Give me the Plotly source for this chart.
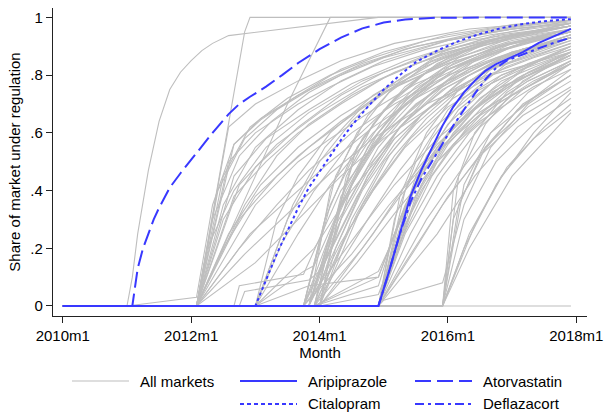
import plotly.graph_objects as go

# ---------------- data (months since 2010m1, share of market) ----------------
TICK_MONTHS = [0, 24, 48, 72, 96]
TICK_LABELS = ["2010m1", "2012m1", "2014m1", "2016m1", "2018m1"]
Y_TICKS = [0, 0.2, 0.4, 0.6, 0.8, 1.0]
Y_LABELS = ["0", ".2", ".4", ".6", ".8", "1"]

ATORVASTATIN_M = [0, 13, 14, 15, 16, 17, 18, 20, 22, 25, 28, 31, 33, 35, 38, 41, 44, 48, 52, 56, 60, 64, 70, 95]
ATORVASTATIN_V = [0, 0, 0.13, 0.20, 0.25, 0.30, 0.34, 0.41, 0.46, 0.53, 0.60, 0.665, 0.70, 0.725, 0.76, 0.80,
                  0.842, 0.89, 0.93, 0.962, 0.982, 0.993, 0.999, 1.0]

CITALOPRAM_M = [0, 36, 38, 40, 42, 44, 46, 48, 50, 52, 54, 57, 60, 63, 66, 70, 74, 78, 82, 86, 90, 95]
CITALOPRAM_V = [0, 0, 0.09, 0.18, 0.26, 0.34, 0.41, 0.465, 0.52, 0.575, 0.625, 0.69, 0.75, 0.80, 0.845,
                0.885, 0.918, 0.943, 0.963, 0.977, 0.987, 0.994]

ARIPIPRAZOLE_M = [0, 59, 61, 63, 65, 67, 69, 71, 73, 75, 77, 79, 81, 83, 86, 89, 92, 95]
ARIPIPRAZOLE_V = [0, 0, 0.12, 0.25, 0.38, 0.47, 0.55, 0.625, 0.69, 0.74, 0.78, 0.815, 0.838, 0.855,
                  0.88, 0.912, 0.937, 0.96]

DEFLAZACORT_M = [0, 59, 61, 63, 65, 67, 69, 71, 73, 75, 77, 79, 81, 83, 86, 89, 92, 95]
DEFLAZACORT_V = [0, 0, 0.12, 0.25, 0.36, 0.44, 0.50, 0.565, 0.625, 0.68, 0.735, 0.785, 0.825, 0.85,
                 0.872, 0.893, 0.913, 0.93]

# grey "all markets" lines, grouped by month of first regulation: (month, share) knots
GREY_2011 = [
    [(12, 0), (13, 0.10), (14, 0.25), (16, 0.47), (17, 0.56), (18, 0.64), (20, 0.75), (22, 0.81),
     (24, 0.85), (26, 0.885), (28, 0.91), (31, 0.937), (59, 1.0), (95, 1.0)],
    [(12, 0), (25, 0.03), (28, 0.35), (32, 0.56), (37, 0.65), (44, 0.73), (52, 0.80), (60, 0.86),
     (72, 0.92), (84, 0.96), (95, 0.98)],
]
GREY_2012 = [
    [(25, 0), (34, 0.95), (35, 1.0), (95, 1.0)],
    [(25, 0), (36, 0.45), (42, 0.70), (50, 1.0), (95, 1.0)],
    [(25, 0), (32, 0.56), (37, 0.645), (44, 0.73), (52, 0.82), (60, 0.88), (72, 0.94), (84, 0.975), (95, 0.99)],
    [(25, 0), (30, 0.35), (36, 0.55), (44, 0.68), (52, 0.78), (60, 0.85), (72, 0.92), (84, 0.96), (95, 0.98)],
    [(25, 0), (30, 0.30), (36, 0.48), (44, 0.62), (52, 0.73), (60, 0.81), (72, 0.89), (84, 0.94), (95, 0.97)],
    [(25, 0), (31, 0.25), (37, 0.42), (44, 0.55), (52, 0.66), (60, 0.75), (72, 0.85), (84, 0.92), (95, 0.96)],
    [(25, 0), (33, 0.30), (40, 0.45), (46, 0.55), (54, 0.66), (62, 0.76), (72, 0.84), (84, 0.91), (95, 0.95)],
    [(25, 0), (29, 0.40), (34, 0.58), (40, 0.68), (48, 0.77), (56, 0.84), (66, 0.90), (80, 0.95), (95, 0.985)],
    [(25, 0), (33, 0.20), (40, 0.35), (46, 0.47), (54, 0.60), (62, 0.70), (72, 0.80), (84, 0.88), (95, 0.93)],
    [(25, 0), (35, 0.25), (44, 0.40), (50, 0.50), (58, 0.62), (66, 0.72), (76, 0.82), (86, 0.89), (95, 0.93)],
    [(25, 0), (30, 0.45), (35, 0.62), (42, 0.72), (50, 0.80), (58, 0.86), (68, 0.92), (80, 0.96), (95, 0.99)],
    [(25, 0), (36, 0.15), (44, 0.30), (52, 0.45), (60, 0.58), (68, 0.68), (78, 0.79), (88, 0.86), (95, 0.90)],
    [(25, 0), (32, 0.38), (38, 0.50), (44, 0.60), (52, 0.70), (60, 0.79), (70, 0.87), (82, 0.93), (95, 0.97)],
    [(25, 0), (34, 0.35), (40, 0.52), (46, 0.63), (54, 0.73), (62, 0.81), (72, 0.88), (84, 0.94), (95, 0.97)],
    [(25, 0), (31, 0.50), (36, 0.60), (44, 0.70), (50, 0.76), (58, 0.83), (68, 0.89), (80, 0.94), (95, 0.98)],
    [(25, 0), (36, 0.35), (44, 0.50), (50, 0.58), (58, 0.68), (66, 0.77), (76, 0.85), (86, 0.91), (95, 0.95)],
    [(25, 0), (28, 0.30), (33, 0.52), (39, 0.64), (46, 0.74), (54, 0.82), (64, 0.89), (78, 0.95), (95, 0.99)],
    [(25, 0), (30, 0.20), (36, 0.38), (44, 0.52), (52, 0.64), (60, 0.74), (72, 0.84), (84, 0.91), (95, 0.95)],
    [(25, 0), (32, 0.45), (38, 0.58), (46, 0.68), (54, 0.77), (64, 0.85), (76, 0.92), (95, 0.97)],
    [(25, 0), (27, 0.20), (32, 0.40), (38, 0.55), (46, 0.67), (56, 0.78), (68, 0.87), (82, 0.94), (95, 0.97)],
    [(25, 0), (34, 0.18), (42, 0.32), (50, 0.46), (58, 0.58), (68, 0.70), (80, 0.80), (95, 0.88)],
    [(25, 0), (31, 0.62), (36, 0.70), (44, 0.78), (52, 0.85), (62, 0.91), (76, 0.96), (95, 0.99)],
    [(25, 0), (33, 0.42), (40, 0.56), (48, 0.67), (56, 0.76), (66, 0.84), (78, 0.91), (95, 0.96)],
]
GREY_2013 = [
    [(32, 0), (33, 0.07), (45, 0.11), (52, 0.40), (60, 0.60), (72, 0.78), (84, 0.88), (95, 0.93)],
    [(33, 0), (34, 0.05), (46, 0.09), (48, 0.12), (55, 0.38), (62, 0.58), (72, 0.74), (84, 0.86), (95, 0.92)],
    [(36, 0), (42, 0.30), (48, 0.50), (54, 0.64), (60, 0.74), (70, 0.85), (82, 0.93), (95, 0.97)],
    [(36, 0), (44, 0.25), (50, 0.42), (58, 0.60), (66, 0.73), (76, 0.84), (86, 0.91), (95, 0.95)],
    [(36, 0), (40, 0.30), (44, 0.45), (50, 0.60), (58, 0.73), (68, 0.84), (80, 0.92), (95, 0.97)],
    [(36, 0), (45, 0.12), (47, 0.14), (52, 0.35), (58, 0.55), (66, 0.70), (76, 0.82), (86, 0.89), (95, 0.93)],
    [(36, 0), (46, 0.07), (59, 0.10), (64, 0.35), (70, 0.55), (78, 0.72), (86, 0.82), (95, 0.88)],
    [(36, 0), (41, 0.22), (47, 0.40), (54, 0.57), (62, 0.71), (72, 0.82), (84, 0.90), (95, 0.95)],
    [(36, 0), (43, 0.35), (49, 0.55), (56, 0.69), (64, 0.80), (74, 0.88), (86, 0.94), (95, 0.97)],
    [(36, 0), (47, 0.20), (54, 0.40), (62, 0.58), (70, 0.71), (80, 0.82), (95, 0.91)],
]
GREY_2014 = [
    [(45, 0), (50, 0.35), (56, 0.58), (62, 0.72), (70, 0.84), (80, 0.92), (95, 0.98)],
    [(45, 0), (52, 0.30), (58, 0.50), (64, 0.64), (72, 0.76), (82, 0.86), (95, 0.94)],
    [(46, 0), (51, 0.28), (57, 0.48), (63, 0.62), (71, 0.75), (81, 0.85), (95, 0.93)],
    [(46, 0), (50, 0.40), (55, 0.60), (61, 0.74), (69, 0.85), (79, 0.92), (95, 0.98)],
    [(47, 0), (53, 0.25), (59, 0.43), (65, 0.58), (73, 0.72), (83, 0.83), (95, 0.91)],
    [(47, 0), (52, 0.38), (58, 0.58), (64, 0.71), (72, 0.82), (82, 0.90), (95, 0.96)],
    [(48, 0), (54, 0.30), (60, 0.50), (66, 0.63), (74, 0.76), (84, 0.86), (95, 0.93)],
    [(48, 0), (53, 0.45), (58, 0.63), (64, 0.76), (72, 0.86), (82, 0.93), (95, 0.98)],
    [(45, 0), (55, 0.25), (62, 0.42), (70, 0.58), (78, 0.70), (86, 0.80), (95, 0.87)],
    [(47, 0), (56, 0.20), (63, 0.38), (71, 0.55), (79, 0.68), (87, 0.78), (95, 0.85)],
    [(46, 0), (54, 0.48), (60, 0.65), (66, 0.76), (74, 0.86), (84, 0.93), (95, 0.97)],
    [(48, 0), (56, 0.35), (62, 0.52), (68, 0.65), (76, 0.78), (86, 0.88), (95, 0.93)],
    [(45, 0), (49, 0.30), (54, 0.52), (60, 0.68), (68, 0.81), (78, 0.90), (95, 0.97)],
    [(47, 0), (55, 0.32), (61, 0.52), (67, 0.66), (75, 0.79), (85, 0.88), (95, 0.94)],
    [(48, 0), (58, 0.25), (64, 0.42), (70, 0.56), (78, 0.70), (88, 0.81), (95, 0.87)],
    [(46, 0), (52, 0.22), (58, 0.40), (64, 0.55), (72, 0.69), (82, 0.80), (95, 0.89)],
    [(47, 0), (51, 0.30), (57, 0.55), (63, 0.70), (71, 0.82), (81, 0.90), (95, 0.96)],
    [(45, 0), (53, 0.40), (59, 0.60), (65, 0.73), (73, 0.84), (83, 0.91), (95, 0.96)],
    [(48, 0), (55, 0.15), (62, 0.32), (70, 0.50), (78, 0.64), (88, 0.76), (95, 0.82)],
    [(46, 0), (56, 0.40), (62, 0.56), (68, 0.68), (76, 0.80), (86, 0.89), (95, 0.94)],
    [(47, 0), (59, 0.10), (63, 0.30), (68, 0.50), (74, 0.65), (82, 0.78), (95, 0.88)],
    [(47, 0), (59, 0.07), (62, 0.25), (67, 0.45), (73, 0.62), (82, 0.76), (95, 0.86)],
    [(48, 0), (59, 0.04), (64, 0.28), (70, 0.50), (78, 0.66), (88, 0.78), (95, 0.84)],
    [(47, 0), (59, 0.12), (61, 0.20), (66, 0.42), (72, 0.60), (80, 0.74), (95, 0.87)],
    [(45, 0), (51, 0.45), (57, 0.66), (63, 0.78), (71, 0.88), (81, 0.94), (95, 0.99)],
    [(46, 0), (53, 0.35), (59, 0.55), (65, 0.68), (73, 0.80), (83, 0.89), (95, 0.95)],
    [(47, 0), (54, 0.42), (60, 0.60), (66, 0.72), (74, 0.83), (84, 0.91), (95, 0.96)],
    [(48, 0), (52, 0.35), (58, 0.56), (64, 0.70), (72, 0.82), (82, 0.90), (95, 0.95)],
    [(45, 0), (54, 0.18), (61, 0.35), (69, 0.52), (77, 0.66), (87, 0.78), (95, 0.85)],
    [(46, 0), (50, 0.25), (56, 0.50), (62, 0.66), (70, 0.79), (80, 0.88), (95, 0.95)],
    [(47, 0), (57, 0.30), (63, 0.47), (69, 0.61), (77, 0.74), (87, 0.84), (95, 0.89)],
    [(48, 0), (51, 0.20), (57, 0.45), (63, 0.62), (71, 0.76), (81, 0.86), (95, 0.93)],
    [(45, 0), (57, 0.45), (63, 0.62), (69, 0.74), (77, 0.85), (87, 0.92), (95, 0.96)],
    [(46, 0), (55, 0.55), (61, 0.70), (67, 0.80), (75, 0.88), (85, 0.94), (95, 0.98)],
]
GREY_2015 = [
    [(59, 0), (63, 0.30), (68, 0.52), (74, 0.68), (82, 0.80), (95, 0.90)],
    [(59, 0), (64, 0.25), (70, 0.45), (76, 0.60), (84, 0.73), (95, 0.84)],
    [(59, 0), (62, 0.20), (67, 0.40), (73, 0.56), (81, 0.70), (95, 0.84)],
    [(59, 0), (65, 0.35), (71, 0.55), (77, 0.68), (85, 0.79), (95, 0.88)],
    [(59, 0), (66, 0.20), (72, 0.38), (78, 0.52), (86, 0.66), (95, 0.76)],
    [(59, 0), (63, 0.38), (68, 0.60), (74, 0.75), (82, 0.86), (95, 0.94)],
    [(59, 0), (68, 0.30), (74, 0.46), (80, 0.60), (88, 0.72), (95, 0.80)],
    [(59, 0), (64, 0.15), (71, 0.35), (79, 0.55), (87, 0.69), (95, 0.78)],
    [(59, 0), (61, 0.15), (66, 0.45), (72, 0.63), (80, 0.77), (95, 0.90)],
    [(59, 0), (67, 0.42), (73, 0.60), (79, 0.72), (87, 0.83), (95, 0.90)],
    [(59, 0), (60, 0.02), (71, 0.08), (75, 0.35), (80, 0.55), (87, 0.70), (95, 0.80)],
    [(59, 0), (62, 0.30), (66, 0.50), (72, 0.68), (80, 0.82), (95, 0.93)],
    [(59, 0), (65, 0.25), (71, 0.45), (78, 0.62), (86, 0.75), (95, 0.85)],
    [(59, 0), (63, 0.22), (69, 0.45), (76, 0.63), (85, 0.78), (95, 0.87)],
    [(59, 0), (66, 0.38), (72, 0.56), (79, 0.70), (87, 0.81), (95, 0.88)],
    [(59, 0), (64, 0.40), (69, 0.58), (75, 0.72), (83, 0.84), (95, 0.92)],
    [(59, 0), (70, 0.25), (77, 0.45), (85, 0.62), (95, 0.75)],
]
GREY_2016 = [
    [(71, 0), (76, 0.25), (82, 0.45), (88, 0.58), (95, 0.68)],
    [(71, 0), (75, 0.30), (81, 0.50), (88, 0.63), (95, 0.72)],
    [(71, 0), (74, 0.35), (79, 0.55), (86, 0.70), (95, 0.80)],
    [(71, 0), (73, 0.30), (78, 0.52), (85, 0.68), (95, 0.82)],
    [(71, 0), (77, 0.28), (83, 0.48), (90, 0.62), (95, 0.70)],
    [(71, 0), (75, 0.42), (80, 0.60), (87, 0.74), (95, 0.84)],
    [(71, 0), (76, 0.20), (84, 0.45), (95, 0.67)],
    [(71, 0), (74, 0.45), (79, 0.63), (86, 0.78), (95, 0.87)],
    [(71, 0), (75, 0.20), (81, 0.42), (88, 0.60), (95, 0.74)],
    [(71, 0), (73, 0.40), (77, 0.60), (83, 0.74), (95, 0.88)],
]
GREY_NEVER = [
    [(0, 0), (95, 0)],
]

# ---------------- styling ----------------
FONT = "Liberation Sans, Arial, Helvetica, sans-serif"
GREY = "#bebebe"
BLUE = "#3838ff"
W, H = 607, 412
L, R, T, B = 53, 20, 8, 96  # plot-area margins (px)

fig = go.Figure()

for group in [GREY_2011, GREY_2012, GREY_2013, GREY_2014, GREY_2015, GREY_2016, GREY_NEVER]:
    for line in group:
        ms = [p[0] for p in line]
        vs = [p[1] for p in line]
        if ms[0] > 0:
            ms = [0] + ms
            vs = [0] + vs
        fig.add_trace(go.Scatter(x=ms, y=vs, mode="lines", showlegend=False, hoverinfo="skip",
                                 line=dict(color=GREY, width=1.1)))

HIGHLIGHT = [
    ("Atorvastatin", ATORVASTATIN_M, ATORVASTATIN_V, "16px,6px"),
    ("Citalopram", CITALOPRAM_M, CITALOPRAM_V, "3px,3px"),
    ("Deflazacort", DEFLAZACORT_M, DEFLAZACORT_V, "10px,4px,3px,4px"),
    ("Aripiprazole", ARIPIPRAZOLE_M, ARIPIPRAZOLE_V, "solid"),
]
for name, ms, vs, dash in HIGHLIGHT:
    fig.add_trace(go.Scatter(x=ms, y=vs, mode="lines", name=name, showlegend=False,
                             line=dict(color=BLUE, width=2, dash=dash)))

# ---------------- manual legend (Stata-like, 3 columns) ----------------
pw = W - L - R
ph = H - T - B


def px_x(px):
    return (px - L) / pw


def px_y(py):
    return (H - B - py) / ph


LEGEND = [
    ("All markets", GREY, "solid", 1.1, 72, 381),
    ("Aripiprazole", BLUE, "solid", 2, 240, 381),
    ("Atorvastatin", BLUE, "16px,6px", 2, 415, 381),
    ("Citalopram", BLUE, "4px,3px", 2, 240, 404),
    ("Deflazacort", BLUE, "9px,4px,3px,4px", 2, 415, 404),
]
for text, col, dash, wd, x0, y0 in LEGEND:
    fig.add_shape(type="line", xref="paper", yref="paper",
                  x0=px_x(x0), x1=px_x(x0 + 57), y0=px_y(y0), y1=px_y(y0),
                  line=dict(color=col, width=wd, dash=dash))
    fig.add_annotation(xref="paper", yref="paper", x=px_x(x0 + 66), y=px_y(y0),
                       xanchor="left", yanchor="middle", showarrow=False, text=text,
                       font=dict(family=FONT, size=15, color="black"))

fig.update_layout(
    width=W, height=H,
    margin=dict(l=L, r=R, t=T, b=B, pad=0, autoexpand=False),
    paper_bgcolor="white", plot_bgcolor="white",
    font=dict(family=FONT, size=15, color="black"),
    showlegend=False,
    xaxis=dict(
        range=[-1.83, 98.0], tickmode="array", tickvals=TICK_MONTHS, ticktext=TICK_LABELS,
        showgrid=False, zeroline=False, showline=True, linecolor="#222", linewidth=1.3,
        ticks="outside", ticklen=6, tickwidth=1.2, tickcolor="#222", automargin=False,
        tickfont=dict(family=FONT, size=15, color="black"),
        title=dict(text="Month", standoff=2, font=dict(family=FONT, size=15, color="black")),
        fixedrange=True,
    ),
    yaxis=dict(
        range=[-0.0347, 1.0326], tickmode="array", tickvals=Y_TICKS, ticktext=Y_LABELS,
        showgrid=False, zeroline=False, showline=True, linecolor="#222", linewidth=1.3,
        ticks="outside", ticklen=6, tickwidth=1.2, tickcolor="#222", automargin=False,
        tickfont=dict(family=FONT, size=15, color="black"),
        title=dict(text="Share of market under regulation", standoff=6,
                   font=dict(family=FONT, size=15, color="black")),
        fixedrange=True,
    ),
)

fig.write_html("out.html", config={"displayModeBar": False},
               post_script="document.body.style.margin='0';document.body.style.padding='0';")
